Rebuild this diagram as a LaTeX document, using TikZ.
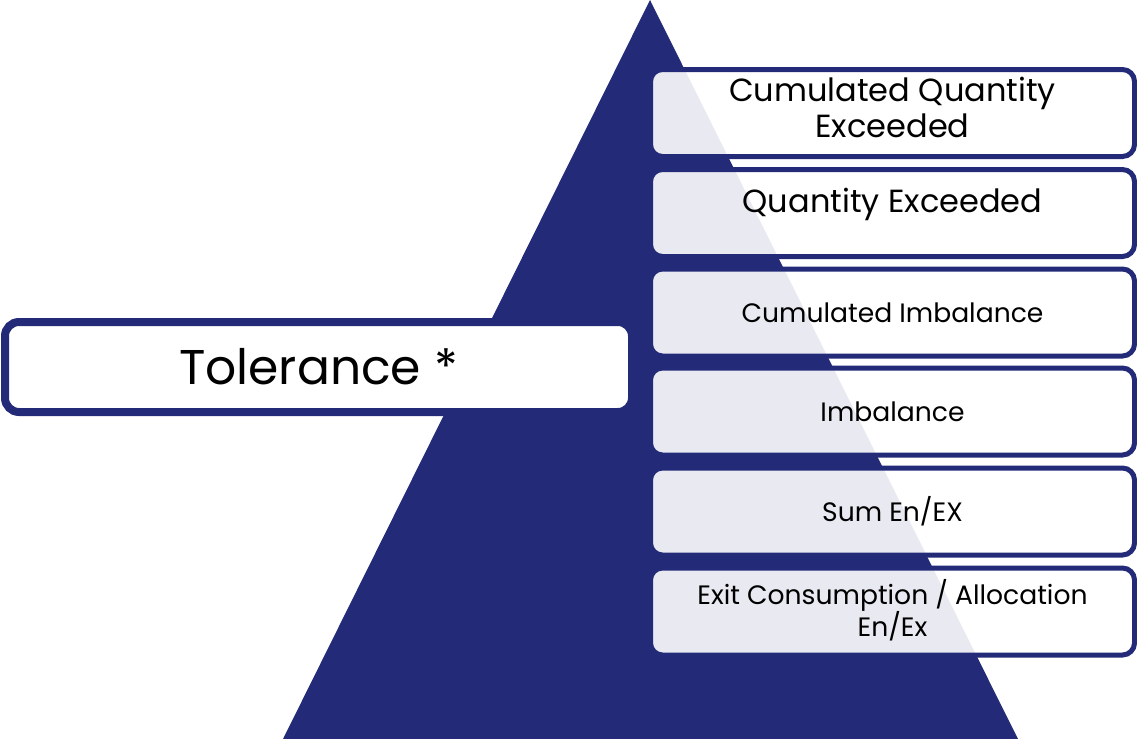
\documentclass[tikz,border=0pt]{standalone}
\usepackage{fontspec}
\setmainfont{Poppins}
\definecolor{navy}{HTML}{232B78}
\tikzstyle{level}=[rectangle,rounded corners=6pt,draw=navy,line width=2.5pt,fill=white,fill opacity=0.9,draw opacity=1,text opacity=1,minimum width=242pt,minimum height=43.5pt,inner sep=0pt,align=center,anchor=center]
\tikzstyle{big}=[font=\fontsize{16}{18}\selectfont]
\tikzstyle{small}=[font=\fontsize{13.3}{14}\selectfont]
\newcommand{\lift}[3][1]{\raisebox{#2}[\height][\depth]{\renewcommand{\arraystretch}{#1}\begin{tabular}{@{}c@{}}#3\end{tabular}}}
\begin{document}
\begin{tikzpicture}[x=0.5pt,y=-0.5pt]
	\useasboundingbox (0,0) rectangle (1137,739);

	% pyramid
	\fill[navy] (650,0) -- (1018,739) -- (283,739) -- cycle;

	% levels of the pyramid
	\node[level,big](cqe) at (892.5,113){\lift{0.5pt}{Cumulated Quantity\\Exceeded}};
	\node[level,big](qe) at (892.5,213){\lift{4pt}{Quantity Exceeded}};
	\node[level,small](ci) at (892.5,312.5){Cumulated Imbalance};
	\node[level,small](imb) at (892.5,411.5){Imbalance};
	\node[level,small](sum) at (892.5,511.5){Sum En/EX};
	\node[level,small](exit) at (892.5,611.5){\lift[0.8]{0pt}{Exit Consumption / Allocation\\En/Ex}};

	% tolerance
	\node[rectangle,rounded corners=7pt,draw=navy,line width=4pt,fill=white,minimum width=313.5pt,minimum height=45pt,font=\fontsize{24.4}{28}\selectfont](tol) at (318.5,367){Tolerance *};

\end{tikzpicture}
\end{document}
